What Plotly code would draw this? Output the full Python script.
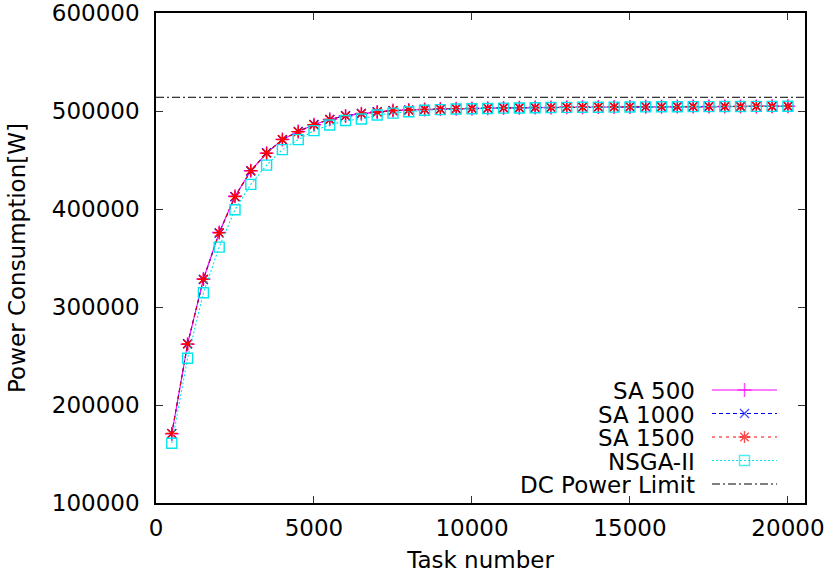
import plotly.graph_objects as go

# ---------------- data ----------------
task_numbers = list(range(500, 20001, 500))

sa500 = [170500, 262000, 328500, 376000, 413000, 439000, 457000, 471000, 479000, 486000,
         491500, 495000, 497300, 499000, 500400, 501000, 501600, 502000, 502300, 502600,
         502900, 503100, 503300, 503500, 503600, 503800, 503900, 504000, 504100, 504200,
         504300, 504400, 504500, 504500, 504600, 504600, 504700, 504700, 504800, 504800]

sa1000 = [170800, 262500, 328000, 375500, 412500, 438800, 457300, 470600, 479200, 486300,
          491300, 495200, 497500, 499200, 500300, 501100, 501500, 502100, 502200, 502700,
          502800, 503200, 503300, 503400, 503700, 503800, 504000, 504000, 504200, 504200,
          504300, 504300, 504500, 504600, 504600, 504700, 504700, 504800, 504800, 504900]

sa1500 = [171000, 262300, 328300, 375800, 412800, 439200, 456900, 470900, 478800, 486000,
          491400, 495100, 497400, 498900, 500500, 501000, 501700, 501900, 502400, 502500,
          502900, 503000, 503400, 503500, 503600, 503900, 503900, 504100, 504100, 504300,
          504200, 504400, 504400, 504600, 504500, 504700, 504600, 504800, 504700, 504800]

nsga2 = [161000, 247700, 314500, 361100, 399300, 425100, 444800, 460600, 470800, 480000,
         485700, 490300, 491800, 495900, 497800, 499300, 500700, 501400, 502000, 502300,
         502600, 502900, 503100, 503300, 503500, 503700, 503800, 503900, 504000, 504100,
         504200, 504300, 504400, 504500, 504500, 504600, 504600, 504700, 504700, 504800]

dc_power_limit = 514000

x_ticks = [0, 5000, 10000, 15000, 20000]
y_ticks = [100000, 200000, 300000, 400000, 500000, 600000]

series_names = ["SA 500", "SA 1000", "SA 1500", "NSGA-II", "DC Power Limit"]

# ---------------- styles ----------------
FONT = "DejaVu Sans"
FS = 23
X_RANGE = [0, 20540]
Y_RANGE = [100000, 600000]

styles = [
    dict(color="#ff00ff", dash="solid", symbol="cross-thin-open", size=10),
    dict(color="#0000ff", dash="4px,3px", symbol="x-thin-open", size=9),
    dict(color="#ff0000", dash="3px,4px", symbol="asterisk-open", size=10),
    dict(color="#00e5ee", dash="2px,2px", symbol="square-open", size=10),
    dict(color="#000000", dash="8px,3px,2px,3px", symbol=None, size=0),
]

fig = go.Figure()

for name, vals, st in zip(series_names[:4], [sa500, sa1000, sa1500, nsga2], styles[:4]):
    fig.add_trace(go.Scatter(
        x=task_numbers, y=vals, name=name, mode="lines+markers",
        line=dict(color=st["color"], width=1.1, dash=st["dash"]),
        marker=dict(symbol=st["symbol"], size=st["size"], color=st["color"],
                    line=dict(color=st["color"], width=1.4)),
        showlegend=False,
    ))

fig.add_trace(go.Scatter(
    x=X_RANGE, y=[dc_power_limit, dc_power_limit], name=series_names[4], mode="lines",
    line=dict(color="#000000", width=1, dash=styles[4]["dash"]),
    showlegend=False,
))

# ---------------- gnuplot-style key (text left, sample right) ----------------
W, H = 826, 573
# plotting box in page pixels
PL, PR, PT, PB = 156, 805, 13, 503
key_text_x = 697
key_line_x = [712, 744.5, 777]
key_rows = [390, 413.5, 437, 460.5, 484]

for name, st, ky in zip(series_names, styles, key_rows):
    if st["symbol"]:
        fig.add_trace(go.Scatter(
            x=key_line_x, y=[ky, ky, ky], mode="lines+markers",
            xaxis="x2", yaxis="y2",
            line=dict(color=st["color"], width=1.1, dash=st["dash"]),
            marker=dict(symbol=st["symbol"], size=[0, st["size"], 0], color=st["color"],
                        line=dict(color=st["color"], width=1.4)),
            showlegend=False, hoverinfo="skip",
        ))
    else:
        fig.add_trace(go.Scatter(
            x=[key_line_x[0], key_line_x[2]], y=[ky, ky], mode="lines",
            xaxis="x2", yaxis="y2",
            line=dict(color=st["color"], width=1, dash=st["dash"]),
            showlegend=False, hoverinfo="skip",
        ))
    fig.add_annotation(x=key_text_x, y=ky + 1, xref="x2", yref="y2", text=name,
                       showarrow=False, xanchor="right", yanchor="middle",
                       font=dict(family=FONT, size=FS, color="black"))

axis_common = dict(
    showline=True, linecolor="black", linewidth=1.5, mirror="ticks",
    ticks="inside", ticklen=7, tickwidth=1, tickcolor="#333333",
    showgrid=False, zeroline=False, ticklabeloverflow="allow",
    tickfont=dict(family=FONT, size=FS, color="black"),
)

fig.update_layout(
    width=W, height=H,
    margin=dict(l=PL, r=W - PR, t=PT, b=H - PB, autoexpand=False),
    paper_bgcolor="white", plot_bgcolor="white",
    font=dict(family=FONT, size=FS, color="black"),
    xaxis=dict(range=X_RANGE, tickvals=x_ticks, tickformat="d", ticklabelstandoff=4,
               title=dict(text="Task number", font=dict(family=FONT, size=FS), standoff=14),
               automargin=False, **axis_common),
    yaxis=dict(range=Y_RANGE, tickvals=y_ticks, tickformat="d", ticklabelstandoff=10,
               title=dict(text="Power Consumption[W]", font=dict(family=FONT, size=FS), standoff=20),
               automargin=False, **axis_common),
    xaxis2=dict(range=[PL, PR], overlaying="x", visible=False, fixedrange=True),
    yaxis2=dict(range=[PB, PT], overlaying="y", visible=False, fixedrange=True),
    showlegend=False,
    hovermode=False,
)

fig.write_html("out.html", config={"displayModeBar": False},
               post_script="document.body.style.margin='0';")
